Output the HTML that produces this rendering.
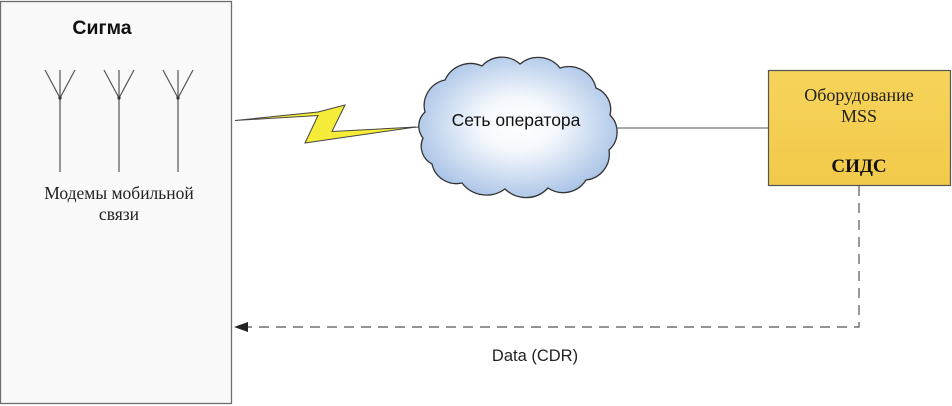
<!DOCTYPE html>
<html>
<head>
<meta charset="utf-8">
<style>
html,body{margin:0;padding:0;background:#fff;}
body{width:952px;height:406px;overflow:hidden;}
svg{display:block;}
.sans{font-family:"Liberation Sans","Noto Sans CJK SC",sans-serif;}
.serif{font-family:"Liberation Serif","Noto Serif CJK SC",serif;}
</style>
</head>
<body>
<svg width="952" height="406" viewBox="0 0 952 406" xmlns="http://www.w3.org/2000/svg">
  <defs>
    <radialGradient id="cg" cx="50%" cy="48%" r="55%">
      <stop offset="0" stop-color="#ffffff"/>
      <stop offset="0.35" stop-color="#f4f8fd"/>
      <stop offset="1" stop-color="#a9c3e6"/>
    </radialGradient>
    <linearGradient id="yg" x1="0" y1="0" x2="0" y2="1">
      <stop offset="0" stop-color="#f6d45a"/>
      <stop offset="1" stop-color="#f2c94a"/>
    </linearGradient>
  </defs>

  <!-- Left box -->
  <rect x="0.5" y="1.5" width="231" height="402" fill="#f9f9fa" stroke="#6e6e6e" stroke-width="1.3"/>
  <text x="102" y="34" text-anchor="middle" class="sans" font-size="19.5" font-weight="bold" fill="#111">Сигма</text>

  <!-- Antennas -->
  <g stroke="#555" stroke-width="1.2" fill="none">
    <line x1="60" y1="70" x2="60" y2="172"/>
    <line x1="45" y1="70" x2="60" y2="98"/>
    <line x1="75" y1="70" x2="60" y2="98"/>
    <line x1="119" y1="70" x2="119" y2="172"/>
    <line x1="104" y1="70" x2="119" y2="98"/>
    <line x1="134" y1="70" x2="119" y2="98"/>
    <line x1="178" y1="70" x2="178" y2="172"/>
    <line x1="163" y1="70" x2="178" y2="98"/>
    <line x1="193" y1="70" x2="178" y2="98"/>
  </g>
  <circle cx="60" cy="98" r="1.6" fill="#333"/>
  <circle cx="119" cy="98" r="1.6" fill="#333"/>
  <circle cx="178" cy="98" r="1.6" fill="#333"/>

  <text x="119" y="199" text-anchor="middle" class="serif" font-size="17.5" fill="#222">Модемы мобильной</text>
  <text x="119" y="220" text-anchor="middle" class="serif" font-size="17.5" fill="#222">связи</text>

  <!-- Lightning -->
  <polygon points="235,120.5 318,112 345,105 332,131.5 416,127 305,143 318,115.5" fill="#f5ec3a" stroke="#444" stroke-width="1" stroke-linejoin="miter"/>
  <line x1="410" y1="127.5" x2="420" y2="127" stroke="#444" stroke-width="1"/>

  <!-- Cloud -->
  <path d="M425,112
           A26,26 0 0 1 445,80
           A28,28 0 0 1 482,66
           A27,27 0 0 1 520,64
           A28,28 0 0 1 560,68
           A28,28 0 0 1 596,88
           A23,23 0 0 1 610,115
           A24,24 0 0 1 609,150
           A26,26 0 0 1 586,180
           A27,27 0 0 1 548,188
           A30,30 0 0 1 505,189
           A31,31 0 0 1 462,183
           A25,25 0 0 1 432,164
           A20,20 0 0 1 423,138
           A19,19 0 0 1 425,112 Z"
        fill="url(#cg)" stroke="#333" stroke-width="1.3"/>
  <text x="516" y="126" text-anchor="middle" class="sans" font-size="17.5" fill="#111">Сеть оператора</text>

  <!-- Line cloud to box -->
  <line x1="616" y1="128" x2="768" y2="128" stroke="#555" stroke-width="1.1"/>

  <!-- Yellow box -->
  <rect x="768.5" y="70.5" width="182" height="115" fill="url(#yg)" stroke="#555" stroke-width="1.2"/>
  <text x="859" y="101" text-anchor="middle" class="serif" font-size="18" fill="#222">Оборудование</text>
  <text x="859" y="122" text-anchor="middle" class="serif" font-size="18" fill="#222">MSS</text>
  <text x="859" y="172" text-anchor="middle" class="serif" font-size="19" font-weight="bold" fill="#111">СИДС</text>

  <!-- Dashed connector -->
  <polyline points="859,186 859,327 244,327" fill="none" stroke="#555" stroke-width="1.2" stroke-dasharray="10,7"/>
  <polygon points="234,327 248,322 248,332" fill="#222"/>
  <text x="535" y="361" text-anchor="middle" class="sans" font-size="16.5" fill="#222">Data (CDR)</text>
</svg>
</body>
</html>
